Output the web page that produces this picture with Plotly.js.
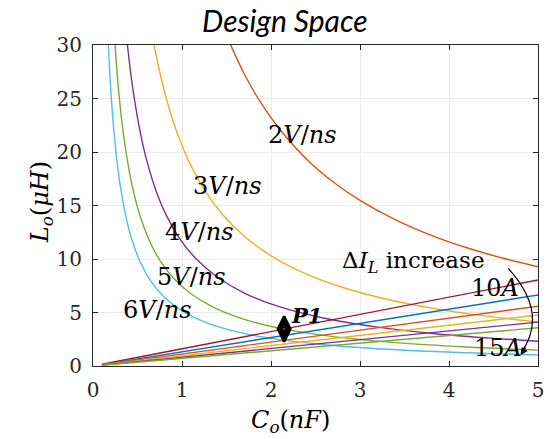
<!DOCTYPE html>
<html>
<head>
<meta charset="utf-8">
<script src="https://cdn.plot.ly/plotly-3.0.1.min.js"></script>
<style>html,body{margin:0;padding:0;background:#fff;}#chart{width:552px;height:439px;}</style>
</head>
<body>
<div id="chart"></div>
<script>
// ---- Data ----
// Slew-rate curves (V/ns)
const c2x = [1.50, 1.55, 1.70, 1.90, 2.10, 2.40, 2.70, 3.00, 3.40, 3.80, 4.20, 4.60, 5.00];
const c2y = [30.93, 29.94, 27.29, 24.42, 22.10, 19.33, 17.19, 15.47, 13.65, 12.21, 11.05, 10.09, 9.28];
const c3x = [0.66, 0.68, 0.75, 0.85, 0.95, 1.10, 1.25, 1.45, 1.70, 2.00, 2.40, 2.80, 3.30, 3.80, 4.40, 5.00];
const c3y = [31.21, 30.29, 27.47, 24.24, 21.68, 18.73, 16.48, 14.21, 12.12, 10.30, 8.58, 7.36, 6.24, 5.42, 4.68, 4.12];
const c4x = [0.37, 0.38, 0.42, 0.47, 0.53, 0.60, 0.70, 0.82, 0.97, 1.15, 1.40, 1.70, 2.10, 2.60, 3.20, 3.90, 4.50, 5.00];
const c4y = [31.35, 30.53, 27.62, 24.68, 21.89, 19.33, 16.57, 14.15, 11.96, 10.09, 8.29, 6.82, 5.52, 4.46, 3.63, 2.97, 2.58, 2.32];
const c5x = [0.24, 0.27, 0.30, 0.34, 0.39, 0.45, 0.53, 0.63, 0.75, 0.90, 1.10, 1.35, 1.70, 2.15, 2.70, 3.40, 4.20, 5.00];
const c5y = [30.92, 27.48, 24.73, 21.82, 19.03, 16.49, 14.00, 11.78, 9.89, 8.24, 6.75, 5.50, 4.36, 3.45, 2.75, 2.18, 1.77, 1.48];
const c6x = [0.165, 0.19, 0.21, 0.24, 0.28, 0.32, 0.38, 0.45, 0.54, 0.65, 0.80, 1.00, 1.25, 1.60, 2.00, 2.60, 3.30, 4.10, 5.00];
const c6y = [31.27, 27.16, 24.57, 21.50, 18.43, 16.13, 13.58, 11.47, 9.56, 7.94, 6.45, 5.16, 4.13, 3.23, 2.58, 1.98, 1.56, 1.26, 1.03];
const curveLabels = ['2', '3', '4', '5', '6'];

// Ripple-current lines (ΔI_L = 10A ... 15A)
const dIx = [0.1, 5.0];
const dI10 = [0.161, 8.04];
const dI11 = [0.133, 6.64];
const dI12 = [0.112, 5.58];
const dI13 = [0.095, 4.76];
const dI14 = [0.082, 4.10];
const dI15 = [0.071, 3.57];

// Design point
const p1x = [2.148];
const p1y = [3.456];

const xTicks = [0, 1, 2, 3, 4, 5];
const yTicks = [0, 5, 10, 15, 20, 25, 30];

// ---- Styles ----
const C = {blue:'#0072BD', orange:'#D95319', yellow:'#EDB120', purple:'#7E2F8E',
           green:'#77AC30', cyan:'#4DBEEE', red:'#A2142F'};
const LW = 1.4;

function curve(x, y, color) {
  return {x: x, y: y, type: 'scatter', mode: 'lines',
          line: {color: color, width: LW, shape: 'spline', smoothing: 0.8},
          hoverinfo: 'skip', showlegend: false};
}
function lineTr(y, color) {
  return {x: dIx, y: y, type: 'scatter', mode: 'lines',
          line: {color: color, width: LW}, hoverinfo: 'skip', showlegend: false};
}

const data = [
  curve(c2x, c2y, C.orange),
  curve(c3x, c3y, C.yellow),
  curve(c4x, c4y, C.purple),
  curve(c5x, c5y, C.green),
  curve(c6x, c6y, C.cyan),
  lineTr(dI10, C.red),
  lineTr(dI11, C.blue),
  lineTr(dI12, C.orange),
  lineTr(dI13, C.yellow),
  lineTr(dI14, C.purple),
  lineTr(dI15, C.green),
  {x: p1x, y: p1y, type: 'scatter', mode: 'markers',
   marker: {symbol: 'diamond-tall', size: 18, color: '#000', line: {color: '#000', width: 2.5}},
   hoverinfo: 'skip', showlegend: false},
  {x: p1x, y: p1y, type: 'scatter', mode: 'markers',
   marker: {symbol: 'circle', size: 2.5, color: C.red},
   hoverinfo: 'skip', showlegend: false}
];

const serif = 'DejaVu Serif';
const labFont = {family: serif, size: 24, color: '#000'};

function lab(text, x, y, extra) {
  return Object.assign({text: text, x: x, y: y, xref: 'x', yref: 'y', showarrow: false,
                        xanchor: 'center', yanchor: 'middle', font: labFont}, extra || {});
}

const annotations = [
  lab(curveLabels[0] + '<i>V</i>/<i>ns</i>', 2.354, 21.55),
  lab(curveLabels[1] + '<i>V</i>/<i>ns</i>', 1.506, 16.80),
  lab(curveLabels[2] + '<i>V</i>/<i>ns</i>', 1.191, 12.50),
  lab(curveLabels[3] + '<i>V</i>/<i>ns</i>', 1.112, 8.30),
  lab(curveLabels[4] + '<i>V</i>/<i>ns</i>', 0.730, 5.23),
  lab('<b><i>P1</i></b>', 2.399, 4.76, {font: {family: serif, size: 21, color: '#000'}}),
  lab('Δ<i>I</i><sub><i>L</i></sub> increase', 3.601, 9.70, {font: {family: serif, size: 23, color: '#000'}}),
  lab('10<i>A</i>', 4.522, 7.28),
  lab('15<i>A</i>', 4.545, 1.68),
  // arrow head of the curved arrow
  {x: 4.805, y: 1.03, xref: 'x', yref: 'y', ax: 6, ay: -9, showarrow: true,
   arrowhead: 2, arrowsize: 1.2, arrowwidth: 1.2, arrowcolor: '#000', text: ''},
  // axis titles
  {text: '<i>C</i><sub><i>o</i></sub>(<i>nF</i>)', xref: 'paper', yref: 'paper', x: 0.4435, y: 0,
   yshift: -55, showarrow: false, xanchor: 'center', yanchor: 'middle',
   font: {family: serif, size: 24, color: '#000'}},
  {text: '<i>L</i><sub><i>o</i></sub>(<i>μH</i>)', xref: 'paper', yref: 'paper', x: 0, y: 0.51,
   xshift: -52, showarrow: false, xanchor: 'center', yanchor: 'middle', textangle: -90,
   font: {family: serif, size: 24, color: '#000'}}
];

const axisCommon = {
  showline: true, linecolor: '#262626', linewidth: 1, mirror: 'ticks',
  ticks: 'inside', ticklen: 5, tickwidth: 1, tickcolor: '#262626',
  showgrid: true, gridcolor: '#ebebeb', gridwidth: 1, zeroline: false,
  tickfont: {family: serif, size: 20, color: '#262626'}, fixedrange: true
};

const layout = {
  width: 552, height: 439,
  margin: {l: 93, r: 14, t: 44.5, b: 73, pad: 0},
  paper_bgcolor: '#fff', plot_bgcolor: '#fff',
  title: {text: '<i>Design Space</i>', x: 0.516, xanchor: 'center', xref: 'container',
          y: 0.95, yanchor: 'middle', yref: 'container',
          font: {family: 'Lato', size: 30, color: '#000'}},
  xaxis: Object.assign({}, axisCommon, {range: [0, 5], tickvals: xTicks, ticktext: xTicks.map(String), ticklabelstandoff: 6}),
  yaxis: Object.assign({}, axisCommon, {range: [0, 30], tickvals: yTicks, ticktext: yTicks.map(String), ticklabelstandoff: 6}),
  showlegend: false,
  hovermode: false,
  annotations: annotations,
  shapes: [
    {type: 'path', xref: 'x', yref: 'y', path: 'M 4.666,9.12 Q 5.124,4.92 4.812,1.25',
     line: {color: '#000', width: 1.2}, fillcolor: 'rgba(0,0,0,0)'}
  ]
};

Plotly.newPlot('chart', data, layout, {staticPlot: true, displayModeBar: false});
</script>
</body>
</html>
